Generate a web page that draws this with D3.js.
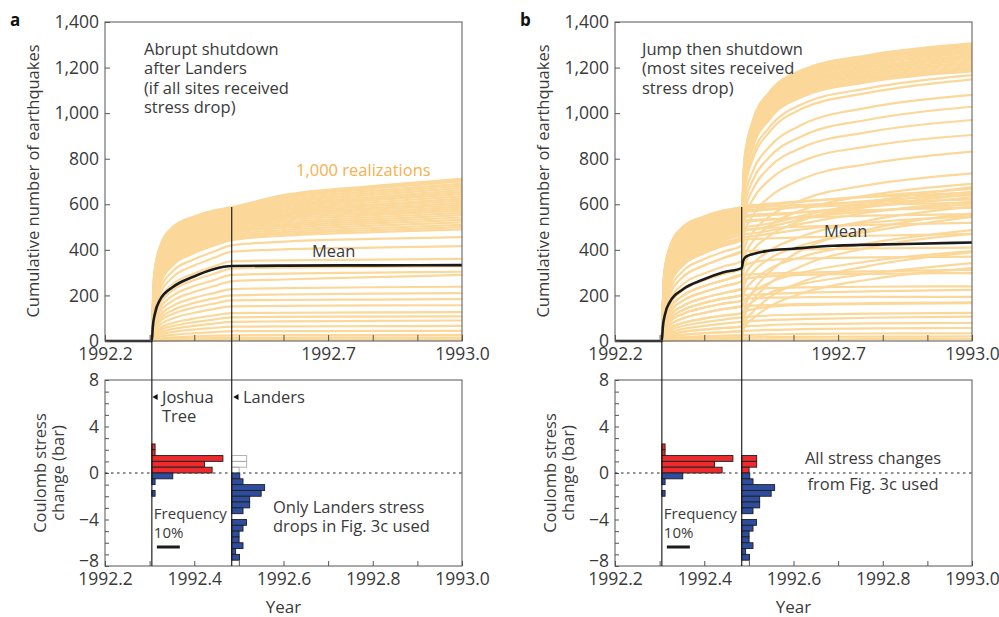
<!DOCTYPE html>
<html>
<head>
<meta charset="utf-8">
<script src="https://cdn.jsdelivr.net/npm/d3@7"></script>
<style>
body { margin: 0; background: #fff; }
text { font-family: "Open Sans", sans-serif; }
</style>
</head>
<body>
<script>
// event times (decimal year)
var jtYear = 1992.305;      // Joshua Tree
var landersYear = 1992.484; // Landers

var yearTicks = [1992.2, 1992.3, 1992.4, 1992.5, 1992.6, 1992.7, 1992.8, 1992.9, 1993.0];
var topYearLabels = [1992.2, 1992.7, 1993.0];
var bottomYearLabels = [1992.2, 1992.4, 1992.6, 1992.8, 1993.0];
var countTicks = [0, 200, 400, 600, 800, 1000, 1200, 1400];
var stressTicks = [-8, -7, -6, -5, -4, -3, -2, -1, 0, 1, 2, 3, 4, 5, 6, 7, 8];
var stressLabels = [-8, -4, 0, 4, 8];

// realizations up to Landers (same in a and b), read at these years
var preKnots = [1992.305, 1992.31, 1992.323, 1992.353, 1992.398, 1992.443, 1992.484];
var preRuns = [
  [0, 290, 414, 502, 545, 572, 588],
  [0, 280, 402, 490, 534, 562, 580],
  [0, 268, 390, 478, 522, 551, 570],
  [0, 255, 376, 464, 510, 540, 560],
  [0, 244, 362, 452, 498, 528, 549],
  [0, 232, 348, 438, 485, 516, 538],
  [0, 220, 334, 424, 472, 503, 526],
  [0, 208, 320, 410, 458, 490, 514],
  [0, 196, 305, 396, 444, 476, 500],
  [0, 184, 292, 382, 430, 462, 487],
  [0, 172, 278, 366, 415, 448, 473],
  [0, 160, 262, 350, 400, 432, 458],
  [0, 148, 248, 334, 384, 418, 443],
  [0, 132, 225, 308, 358, 392, 420],
  [0, 118, 205, 282, 330, 364, 392],
  [0, 102, 180, 250, 295, 327, 350],
  [0, 90, 160, 224, 266, 294, 318],
  [0, 80, 143, 200, 240, 266, 290],
  [0, 70, 126, 178, 214, 240, 262],
  [0, 60, 110, 155, 188, 210, 228],
  [0, 52, 95, 136, 166, 186, 200],
  [0, 46, 84, 120, 146, 164, 178],
  [0, 38, 70, 100, 123, 140, 152],
  [0, 30, 56, 80, 98, 112, 122],
  [0, 25, 46, 66, 82, 94, 104],
  [0, 20, 37, 53, 66, 76, 84],
  [0, 15, 28, 40, 50, 57, 63],
  [0, 10, 19, 27, 34, 39, 43],
  [0, 6, 11, 16, 20, 23, 25],
  [0, 3, 6, 9, 11, 13, 14],
  [0, 1, 2, 3, 4, 5, 6],
  [0, 285, 408, 496, 540, 567, 584],
  [0, 274, 396, 484, 528, 556, 575],
  [0, 262, 383, 471, 516, 546, 565],
  [0, 250, 369, 458, 504, 534, 554],
  [0, 238, 355, 445, 492, 522, 543],
  [0, 226, 341, 431, 478, 509, 532],
  [0, 214, 327, 417, 465, 497, 520],
  [0, 202, 312, 403, 451, 483, 507],
  [0, 190, 298, 389, 437, 469, 494],
  [0, 178, 285, 374, 422, 455, 480],
  [0, 166, 270, 358, 407, 440, 465],
  [0, 154, 255, 342, 392, 425, 450]
];

// panel a: after Landers, same order as preRuns
var postKnotsA = [1992.6, 1992.8, 1993.0];
var postRunsA = [
  [640, 680, 712], [628, 668, 700], [612, 650, 682], [598, 632, 662],
  [585, 618, 645], [570, 600, 625], [556, 583, 606], [543, 568, 590],
  [528, 552, 572], [512, 534, 552], [496, 516, 532], [478, 496, 510],
  [462, 478, 490], [436, 448, 456], [402, 410, 416], [354, 357, 360],
  [322, 325, 328], [296, 300, 304], [270, 280, 290], [232, 236, 238],
  [204, 208, 210], [180, 182, 184], [154, 156, 157], [124, 126, 127],
  [106, 107, 108], [86, 88, 90], [64, 65, 66], [43, 44, 44],
  [26, 26, 27], [14, 15, 15], [6, 6, 6],
  [634, 674, 706], [620, 659, 691], [605, 641, 672], [591, 625, 653],
  [577, 609, 635], [563, 592, 616], [550, 576, 598], [536, 560, 581],
  [520, 543, 562], [504, 525, 542], [487, 506, 521], [470, 487, 500]
];

// panel b: [preRuns row, values at postKnotsB]
var postKnotsB = [1992.49, 1992.51, 1992.545, 1992.62, 1992.77, 1993.0];
var postRunsB = [
  [0, 800, 975, 1090, 1190, 1255, 1306],
  [31, 792, 968, 1083, 1183, 1248, 1299],
  [1, 785, 960, 1075, 1176, 1241, 1292],
  [32, 778, 953, 1068, 1169, 1234, 1285],
  [2, 772, 946, 1061, 1162, 1227, 1278],
  [33, 765, 938, 1053, 1154, 1219, 1270],
  [3, 758, 931, 1046, 1147, 1212, 1263],
  [34, 751, 923, 1038, 1139, 1204, 1255],
  [4, 744, 916, 1031, 1132, 1197, 1247],
  [35, 737, 908, 1023, 1124, 1189, 1239],
  [5, 730, 900, 1016, 1117, 1182, 1231],
  [36, 723, 892, 1008, 1109, 1174, 1223],
  [6, 716, 885, 1001, 1102, 1167, 1215],
  [37, 709, 877, 993, 1094, 1159, 1207],
  [7, 702, 870, 986, 1087, 1152, 1199],
  [38, 695, 862, 978, 1080, 1144, 1191],
  [8, 690, 855, 970, 1072, 1137, 1183],
  [9, 670, 825, 935, 1040, 1110, 1167],
  [10, 655, 805, 915, 1020, 1090, 1148],
  [11, 620, 750, 850, 950, 1025, 1080],
  [12, 590, 710, 805, 900, 972, 1028],
  [13, 560, 670, 760, 850, 918, 970],
  [14, 530, 625, 705, 790, 855, 904],
  [15, 470, 555, 630, 712, 778, 831],
  [16, 410, 480, 545, 620, 685, 736],
  [17, 370, 440, 505, 575, 640, 690],
  [18, 330, 400, 460, 530, 600, 655],
  [19, 280, 340, 395, 460, 530, 590],
  [20, 250, 305, 360, 420, 480, 545],
  [21, 215, 265, 315, 370, 430, 487],
  [22, 175, 215, 255, 300, 350, 395],
  [23, 140, 175, 210, 250, 295, 342],
  [26, 140, 220, 300, 400, 490, 560],
  [27, 110, 180, 250, 330, 410, 470],
  [28, 80, 130, 190, 260, 330, 390],
  [29, 60, 100, 150, 210, 270, 320],
  [0, 592, 596, 602, 614, 632, 650],
  [31, 588, 592, 598, 612, 636, 668],
  [1, 583, 586, 590, 598, 610, 620],
  [33, 568, 571, 576, 590, 615, 640],
  [2, 573, 576, 580, 588, 598, 606],
  [35, 545, 548, 552, 566, 590, 630],
  [4, 551, 554, 558, 565, 575, 585],
  [37, 522, 526, 531, 545, 570, 600],
  [6, 528, 531, 535, 542, 550, 556],
  [39, 500, 505, 515, 550, 610, 675],
  [40, 484, 490, 502, 535, 590, 645],
  [41, 468, 473, 484, 515, 565, 612],
  [9, 489, 492, 496, 502, 510, 518],
  [42, 455, 460, 470, 490, 520, 548],
  [12, 445, 447, 450, 455, 462, 470],
  [14, 394, 396, 398, 402, 406, 410],
  [16, 330, 345, 355, 362, 367, 370],
  [17, 291, 293, 296, 300, 306, 312],
  [18, 270, 278, 284, 290, 295, 298],
  [19, 229, 230, 232, 235, 238, 240],
  [20, 201, 203, 206, 212, 218, 224],
  [21, 185, 188, 190, 192, 194, 194],
  [22, 153, 155, 158, 162, 166, 170],
  [23, 130, 140, 150, 158, 163, 166],
  [24, 105, 108, 112, 116, 120, 123],
  [25, 85, 88, 92, 96, 102, 107],
  [26, 64, 66, 70, 74, 77, 79],
  [27, 44, 46, 49, 52, 55, 57],
  [28, 26, 27, 29, 31, 33, 34],
  [29, 15, 16, 17, 18, 19, 20],
  [30, 6, 6, 7, 7, 8, 8]
];

var meanYearsA = [1992.2, 1992.305, 1992.307, 1992.312, 1992.323, 1992.353, 1992.398, 1992.443, 1992.484, 1992.6, 1992.8, 1993.0];
var meanA = [0, 0, 60, 121, 180, 238, 282, 315, 329, 331, 332, 333];
var meanYearsB = [1992.2, 1992.305, 1992.307, 1992.312, 1992.323, 1992.353, 1992.398, 1992.443, 1992.484, 1992.487, 1992.492, 1992.51, 1992.54, 1992.6, 1992.69, 1992.85, 1993.0];
var meanB = [0, 0, 58, 116, 172, 228, 270, 302, 320, 350, 368, 382, 395, 405, 418, 426, 432];

// stress histograms: lower bin edge (bar) and frequency (%)
var jtBins = [2.0, 1.5, 1.0, 0.5, 0, -0.5, -1.0, -1.5, -2.0];
var jtFreq = [1.4, 1.4, 30.9, 22.9, 26.2, 9.1, 1.4, 0, 1.4];
var landersBins = [1.0, 0.5, 0, -0.5, -1.0, -1.5, -2.0, -2.5, -3.0, -3.5, -4.0, -4.5, -5.0, -5.5, -6.0, -6.5, -7.0, -7.5];
var landersFreq = [6.5, 6.5, 3.2, 3.5, 4.9, 14.3, 12.8, 7.8, 7.8, 4.9, 0, 6.4, 4.9, 3.2, 3.2, 4.9, 1.7, 3.4];

var ink = "#3a3a3a";
var runColor = "#fbd899";
var redFill = "#ec2b2e";
var blueFill = "#2f4d9e";

var svg = d3.select("body").append("svg")
    .attr("width", 999)
    .attr("height", 617);

function addText(g, x, y, lines, size, color, anchor) {
  for (var i = 0; i < lines.length; i++) {
    g.append("text")
      .attr("x", x)
      .attr("y", y + i * 19.3)
      .attr("text-anchor", anchor || "start")
      .style("font-size", size + "px")
      .style("fill", color || ink)
      .text(lines[i]);
  }
}

function styleAxis(g) {
  g.select(".domain").remove();
  g.attr("font-family", "Open Sans").attr("font-size", 17.5);
  g.selectAll("text").style("fill", ink);
  g.selectAll("line").style("stroke", "#555");
}

function drawPanel(p) {
  var g = svg.append("g");
  var x = d3.scaleLinear().domain([1992.2, 1993.0]).range([p.left, p.left + 357]);
  var yCount = d3.scaleLinear().domain([0, 1400]).range([341, 22]);
  var yStress = d3.scaleLinear().domain([-8, 8]).range([566, 380]);
  var freqLen = d3.scaleLinear().domain([0, 10]).range([0, 23]);

  var line = d3.line()
    .x(function(d) { return x(d[0]); })
    .y(function(d) { return yCount(d[1]); })
    .curve(d3.curveMonotoneX);

  // realizations
  var runs = g.append("g")
    .attr("fill", "none")
    .attr("stroke", runColor)
    .attr("stroke-width", 2.2);
  for (var i = 0; i < p.runs.length; i++) {
    runs.append("path").attr("d", line(p.runs[i]));
  }

  // mean
  g.append("path")
    .attr("d", line(p.meanYears.map(function(t, i) { return [t, p.mean[i]]; })))
    .attr("fill", "none")
    .attr("stroke", "#1b1b1b")
    .attr("stroke-width", 2.6);

  // frames
  g.append("rect")
    .attr("x", x(1992.2)).attr("y", yCount(1400))
    .attr("width", x(1993.0) - x(1992.2)).attr("height", yCount(0) - yCount(1400))
    .attr("fill", "none").attr("stroke", "#555").attr("stroke-width", 1);
  g.append("rect")
    .attr("x", x(1992.2)).attr("y", yStress(8))
    .attr("width", x(1993.0) - x(1992.2)).attr("height", yStress(-8) - yStress(8))
    .attr("fill", "none").attr("stroke", "#555").attr("stroke-width", 1);

  // axes
  var fmtYear = d3.format(".1f");
  g.append("g")
    .attr("transform", "translate(0," + yCount(0) + ")")
    .call(d3.axisBottom(x).tickValues(yearTicks).tickSizeInner(-6).tickSizeOuter(0).tickPadding(7)
      .tickFormat(function(d) { return topYearLabels.indexOf(d) >= 0 ? fmtYear(d) : ""; }))
    .call(styleAxis);
  g.append("g")
    .attr("transform", "translate(" + x(1992.2) + ",0)")
    .call(d3.axisLeft(yCount).tickValues(countTicks).tickSizeInner(-5).tickSizeOuter(0).tickPadding(6)
      .tickFormat(d3.format(",")))
    .call(styleAxis);
  g.append("g")
    .attr("transform", "translate(0," + yStress(-8) + ")")
    .call(d3.axisBottom(x).tickValues(yearTicks).tickSizeInner(-5).tickSizeOuter(0).tickPadding(7)
      .tickFormat(function(d) { return bottomYearLabels.indexOf(d) >= 0 ? fmtYear(d) : ""; }))
    .call(styleAxis);
  var sAxis = g.append("g")
    .attr("transform", "translate(" + x(1992.2) + ",0)")
    .call(d3.axisLeft(yStress).tickValues(stressTicks).tickSizeInner(-4).tickSizeOuter(0).tickPadding(6)
      .tickFormat(function(d) { return stressLabels.indexOf(d) >= 0 ? d3.format("")(d) : ""; }))
    .call(styleAxis);
  sAxis.selectAll(".tick").filter(function(d) { return d == -8; }).select("text").attr("y", -5);

  // zero line
  g.append("line")
    .attr("x1", x(1992.2)).attr("x2", x(1993.0))
    .attr("y1", yStress(0)).attr("y2", yStress(0))
    .attr("stroke", "#222").attr("stroke-width", 1.2)
    .attr("stroke-dasharray", "2.5,3.5");

  // histograms
  function bars(year, bins, freq, posStyle) {
    for (var i = 0; i < bins.length; i++) {
      if (freq[i] <= 0) continue;
      var pos = bins[i] >= 0;
      g.append("rect")
        .attr("x", x(year))
        .attr("y", yStress(bins[i] + 0.5))
        .attr("width", freqLen(freq[i]))
        .attr("height", yStress(bins[i]) - yStress(bins[i] + 0.5))
        .attr("fill", pos ? (posStyle == "empty" ? "none" : redFill) : blueFill)
        .attr("stroke", pos && posStyle == "empty" ? "#aaa" : "#1e1e1e")
        .attr("stroke-width", 0.9);
    }
  }
  bars(jtYear, jtBins, jtFreq, "red");
  bars(landersYear, landersBins, landersFreq, p.landersPos);

  // event lines
  var topLanders = d3.max(preRuns, function(r) { return r[r.length - 1]; });
  g.append("line")
    .attr("x1", x(jtYear)).attr("x2", x(jtYear))
    .attr("y1", yCount(0)).attr("y2", yStress(-8))
    .attr("stroke", "#111").attr("stroke-width", 1.1);
  g.append("line")
    .attr("x1", x(landersYear)).attr("x2", x(landersYear))
    .attr("y1", yCount(topLanders)).attr("y2", yStress(-8))
    .attr("stroke", "#111").attr("stroke-width", 1.1);

  // frequency scale bar
  g.append("line")
    .attr("x1", x(jtYear) + 5).attr("x2", x(jtYear) + 5 + freqLen(10))
    .attr("y1", 547).attr("y2", 547)
    .attr("stroke", "#1b1b1b").attr("stroke-width", 3);
  addText(g, x(jtYear) + 2, 519, ["Frequency", "10%"], 15);

  // axis titles
  g.append("text")
    .attr("transform", "translate(" + (p.left - 72) + ",181) rotate(-90)")
    .attr("text-anchor", "middle")
    .attr("dy", "0.35em")
    .style("font-size", "16.5px").style("fill", ink)
    .text("Cumulative number of earthquakes");
  g.append("text")
    .attr("transform", "translate(" + (p.left - 65) + ",473) rotate(-90)")
    .attr("text-anchor", "middle")
    .attr("dy", "0.35em")
    .style("font-size", "16.5px").style("fill", ink)
    .text("Coulomb stress");
  g.append("text")
    .attr("transform", "translate(" + (p.left - 47) + ",473) rotate(-90)")
    .attr("text-anchor", "middle")
    .attr("dy", "0.35em")
    .style("font-size", "16.5px").style("fill", ink)
    .text("change (bar)");
  addText(g, x(1992.6), 613, ["Year"], 17, ink, "middle");

  svg.append("text")
    .attr("x", p.left - 95).attr("y", 26)
    .style("font-size", "17px").style("font-weight", "bold").style("fill", "#111")
    .text(p.letter);

  return { g: g, x: x, yCount: yCount, yStress: yStress };
}

// panel a rows
var runsA = preRuns.map(function(r, i) {
  var pts = preKnots.map(function(t, j) { return [t, r[j]]; });
  return pts.concat(postKnotsA.map(function(t, j) { return [t, postRunsA[i][j]]; }));
});
// panel b rows
var runsB = postRunsB.map(function(r) {
  var pre = preRuns[r[0]];
  var pts = preKnots.map(function(t, j) { return [t, pre[j]]; });
  return pts.concat(postKnotsB.map(function(t, j) { return [t, r[j + 1]]; }));
});

var a = drawPanel({ left: 105, letter: "a", runs: runsA, meanYears: meanYearsA, mean: meanA, landersPos: "empty" });
var b = drawPanel({ left: 615, letter: "b", runs: runsB, meanYears: meanYearsB, mean: meanB, landersPos: "red" });

// annotations a
addText(a.g, 144, 55, ["Abrupt shutdown", "after Landers", "(if all sites received", "stress drop)"], 16.5);
addText(a.g, 296, 176, ["1,000 realizations"], 16.5, "#f6b04c");
addText(a.g, 312, 257, ["Mean"], 16.5);
addText(a.g, 273, 513, ["Only Landers stress", "drops in Fig. 3c used"], 16.5);
addText(a.g, 162, 403, ["Joshua", "Tree"], 16.5);
addText(a.g, 243, 403, ["Landers"], 16.5);

// annotations b
addText(b.g, 642, 55, ["Jump then shutdown", "(most sites received", "stress drop)"], 16.5);
addText(b.g, 824, 237, ["Mean"], 16.5);
addText(b.g, 873, 464, ["All stress changes"], 16.5, ink, "middle");
addText(b.g, 873, 490, ["from Fig. 3c used"], 16.5, ink, "middle");

// small pointers next to the event names
var tri = d3.symbol().type(d3.symbolTriangle).size(16);
[[a.x(jtYear) + 4, 397], [a.x(landersYear) + 5, 397]].forEach(function(pt) {
  a.g.append("path")
    .attr("d", tri())
    .attr("transform", "translate(" + pt[0] + "," + pt[1] + ") rotate(-90)")
    .attr("fill", "#111");
});
</script>
</body>
</html>
